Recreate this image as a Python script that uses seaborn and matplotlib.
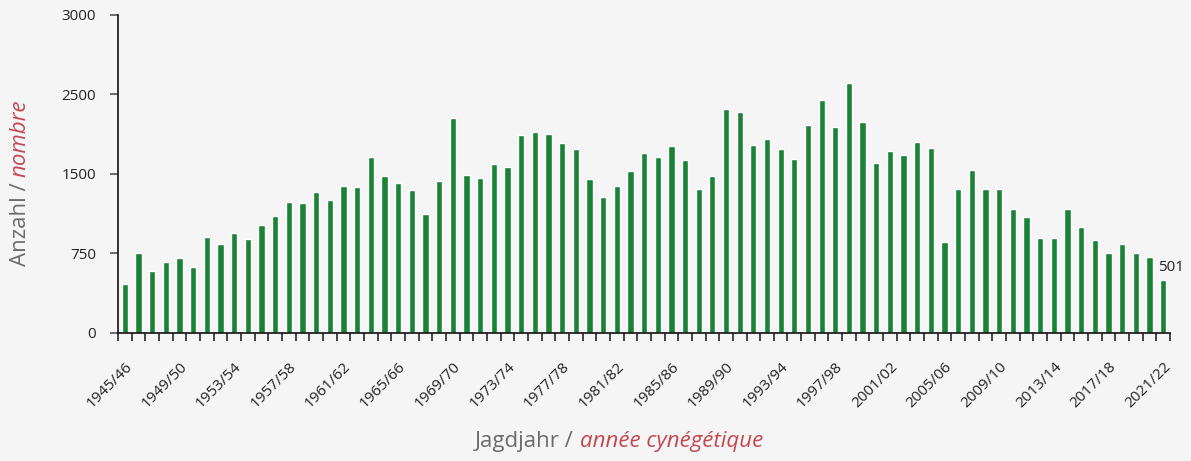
import matplotlib
matplotlib.use("Agg")
import matplotlib.pyplot as plt
import seaborn as sns
from matplotlib.ticker import FixedLocator

# hunting seasons 1945/46 .. 2021/22
start_years = list(range(1945, 2022))
seasons = [f"{y}/{str(y + 1)[-2:]}" for y in start_years]

counts = [
    466, 750, 589, 665, 705, 620, 901, 835, 939, 882,
    1015, 1100, 1232, 1225, 1327, 1251, 1383, 1374, 1657, 1478,
    1412, 1345, 1119, 1431, 2026, 1487, 1459, 1591, 1563, 1865,
    1894, 1875, 1790, 1733, 1449, 1279, 1383, 1525, 1695, 1657,
    1761, 1629, 1355, 1478, 2111, 2083, 1771, 1828, 1733, 1639,
    1960, 2196, 1941, 2357, 1988, 1601, 1714, 1676, 1799, 1743,
    863, 1355, 1535, 1355, 1355, 1166, 1090, 892, 892, 1166,
    996, 873, 750, 835, 759, 721, 501,
]

# y ticks as printed on the original chart
ytick_pos = [0, 750, 1500, 2250, 3000]
ytick_labels = ["0", "750", "1500", "2500", "3000"]

BG = "#f5f5f5"
GREEN = "#1a8237"
GREY = "#6b6b6b"
RED = "#c4474f"

sns.set_style("ticks")
plt.rcParams["font.family"] = ["Open Sans", "DejaVu Sans"]

fig = plt.figure(figsize=(11.91, 4.61), dpi=100, facecolor=BG)
ax = fig.add_axes([0.0991, 0.2777, 0.8833, 0.6898])
ax.set_facecolor(BG)

sns.barplot(x=seasons, y=counts, color=GREEN, width=0.46, saturation=1, ax=ax)

ax.set_xlim(-0.5, len(seasons) - 0.5)
ax.set_ylim(0, 3000)
sns.despine(ax=ax)
for s in ["left", "bottom"]:
    ax.spines[s].set_color("#111111")
    ax.spines[s].set_linewidth(1.2)

# y axis
ax.set_yticks(ytick_pos)
ax.set_yticklabels(ytick_labels, fontsize=11, color="#222222")
ax.tick_params(axis="y", length=6, width=1.2, color="#555555", pad=10)

# x axis: labels every 4th season, tick marks at category boundaries
label_idx = list(range(0, len(seasons), 4))
ax.set_xticks(label_idx)
ax.set_xticklabels([seasons[i] for i in label_idx], rotation=45, ha="right",
                   rotation_mode="anchor", fontsize=11, color="#222222")
ax.tick_params(axis="x", which="major", length=0, pad=19)
ax.xaxis.set_minor_locator(FixedLocator([i - 0.5 for i in range(len(seasons) + 1)]))
ax.tick_params(axis="x", which="minor", length=6, width=1.2)
for i, t in enumerate(ax.xaxis.get_minor_ticks()):
    t.tick1line.set_color("#111111" if i % 2 == 0 else "#888888")

ax.set_xlabel("")
ax.set_ylabel("")

# value label on last bar
ax.annotate(str(counts[-1]), xy=(len(counts) - 1, counts[-1]), xytext=(8, 5),
            textcoords="offset pixels", ha="center", va="bottom",
            fontsize=11, color="#222222")

# two-colour axis titles
fig.canvas.draw()
renderer = fig.canvas.get_renderer()


def two_part_label(x, y, first, second, rotation=0):
    t1 = fig.text(x, y, first, color=GREY, fontsize=16, rotation=rotation,
                  ha="left", va="center", rotation_mode="anchor")
    bb = t1.get_window_extent(renderer).transformed(fig.transFigure.inverted())
    if rotation == 0:
        fig.text(bb.x1, y, second, color=RED, fontsize=16, style="italic",
                 ha="left", va="center", rotation_mode="anchor")
    else:
        fig.text(x, bb.y1, second, color=RED, fontsize=16, style="italic",
                 rotation=rotation, ha="left", va="center", rotation_mode="anchor")


two_part_label(475 / 1191, 1 - 441 / 461, "Jagdjahr / ", "année cynégétique")
two_part_label(20 / 1191, 1 - 266 / 461, "Anzahl / ", "nombre", rotation=90)

fig.savefig("out.png", dpi=100, facecolor=BG)
